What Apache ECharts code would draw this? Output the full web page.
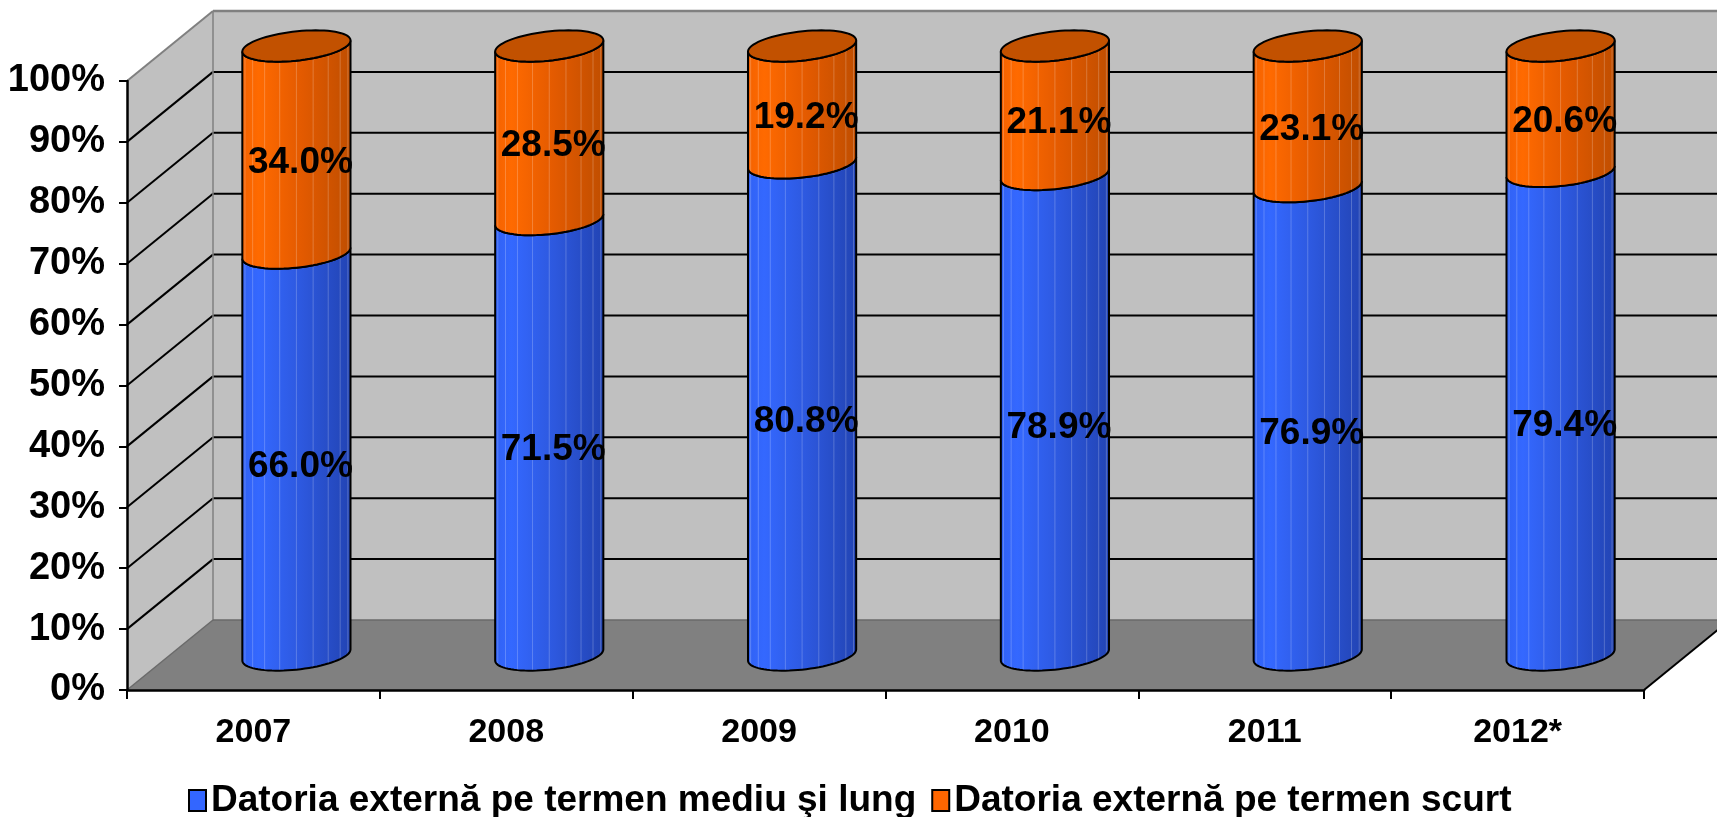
<!DOCTYPE html>
<html>
<head>
<meta charset="utf-8">
<title>Datoria externă</title>
<script src="https://cdn.jsdelivr.net/npm/echarts@6/dist/echarts.min.js"></script>
<style>
	html, body { margin: 0; padding: 0; background: #fff; }
	#main { width: 1717px; height: 817px; }
</style>
</head>
<body>
<div id="main"></div>
<script>
let years = ['2007', '2008', '2009', '2010', '2011', '2012*'];
let long_term = [66.0, 71.5, 80.8, 78.9, 76.9, 79.4]; // termen mediu si lung
let short_term = [34.0, 28.5, 19.2, 21.1, 23.1, 20.6]; // termen scurt
let y_min = 0, y_max = 100, y_step = 10;
let series_names = ['Datoria externă pe termen mediu şi lung', 'Datoria externă pe termen scurt'];

const FONT = '"Liberation Sans", Arial, sans-serif';
const DEPTH_X = 86, DEPTH_Y = -70; // shift from front plane to back wall
const OBL_A = 0.38, OBL_B = 0.31; // oblique projection of the cylinder circles
const T_L = Math.PI + Math.atan(OBL_A);
const T_R = 2 * Math.PI + Math.atan(OBL_A);

// points on a projected circle
function arc(cx, cy, r, t0, t1, n) {
	let pts = [];
	for (let i = 0; i <= n; i++) {
		let t = t0 + ((t1 - t0) * i) / n;
		pts.push([cx + r * Math.cos(t) + r * OBL_A * Math.sin(t), cy - r * OBL_B * Math.sin(t)]);
	}
	return pts;
}

function line(p0, p1, color, width) {
	return {
		type: 'line',
		shape: { x1: p0[0], y1: p0[1], x2: p1[0], y2: p1[1] },
		style: { stroke: color, lineWidth: width },
		silent: true,
	};
}

// walls, floor and gridlines
function render_walls(params, api) {
	let cs = params.coordSys;
	let x0 = cs.x, x1 = cs.x + cs.width;
	let y_top = cs.y, y_bot = cs.y + cs.height;
	let dx = DEPTH_X, dy = DEPTH_Y;
	let children = [];
	children.push({
		type: 'polygon',
		shape: { points: [[x0 + dx, y_top + dy], [x1 + dx, y_top + dy], [x1 + dx, y_bot + dy], [x0 + dx, y_bot + dy]] },
		style: { fill: '#c0c0c0' },
	});
	children.push({
		type: 'polygon',
		shape: { points: [[x0, y_top], [x0 + dx, y_top + dy], [x0 + dx, y_bot + dy], [x0, y_bot]] },
		style: { fill: '#c0c0c0' },
	});
	children.push({
		type: 'polygon',
		shape: { points: [[x0, y_bot], [x0 + dx, y_bot + dy], [x1 + dx, y_bot + dy], [x1, y_bot]] },
		style: { fill: '#808080' },
	});
	for (let v = y_min + y_step; v < y_max; v += y_step) {
		let y = api.coord([0, v])[1];
		children.push(line([x0, y], [x0 + dx, y + dy], '#000', 2));
		children.push(line([x0 + dx, y + dy], [x1 + dx, y + dy], '#000', 2));
	}
	children.push(line([x0, y_top], [x0 + dx, y_top + dy], '#808080', 2));
	children.push(line([x0 + dx, y_top + dy], [x1 + dx, y_top + dy], '#808080', 2.5));
	children.push(line([x0 + dx, y_top + dy], [x0 + dx, y_bot + dy], '#808080', 1.5));
	children.push(line([x0 + dx, y_bot + dy], [x1 + dx, y_bot + dy], '#6a6a6a', 1.5));
	children.push(line([x0, y_bot], [x0 + dx, y_bot + dy], '#6a6a6a', 1.5));
	children.push(line([x1, y_bot], [x1 + dx, y_bot + dy], '#000', 2));
	return { type: 'group', children: children };
}

// one stacked cylinder segment
function make_cylinder(stops, cap_color, is_top) {
	return function (params, api) {
		let idx = api.value(0);
		let pb = api.coord([idx, api.value(1)]);
		let pt = api.coord([idx, api.value(2)]);
		let band = api.size([1, 0])[0];
		let r = band * 0.2;
		let cx = pb[0] + DEPTH_X / 2;
		let yb = pb[1] + DEPTH_Y / 2;
		let yt = pt[1] + DEPTH_Y / 2;
		let bottom = arc(cx, yb, r, T_L, T_R, 40);
		let top = arc(cx, yt, r, T_R, T_L, 40);
		let outline = bottom.concat(top);
		let children = [];
		children.push({
			type: 'polygon',
			shape: { points: outline },
			style: { fill: new echarts.graphic.LinearGradient(0, 0, 1, 0, stops) },
		});
		// facet edges
		for (let k = 1; k < 10; k++) {
			let t = T_L + (Math.PI * k) / 10;
			let x = cx + r * Math.cos(t) + r * OBL_A * Math.sin(t);
			let off = -r * OBL_B * Math.sin(t);
			children.push(line([x, yb + off], [x, yt + off], 'rgba(255,255,255,0.22)', 1));
		}
		children.push({
			type: 'polygon',
			shape: { points: outline },
			style: { fill: null, stroke: '#000', lineWidth: 2 },
		});
		if (is_top) {
			children.push({
				type: 'polygon',
				shape: { points: arc(cx, yt, r, 0, Math.PI * 2, 72) },
				style: { fill: cap_color, stroke: '#000', lineWidth: 2 },
			});
		}
		children.push({
			type: 'text',
			x: cx + 4,
			y: (yb + yt) / 2 + 13,
			z2: 10,
			style: {
				text: api.value(3).toFixed(1) + '%',
				fill: '#000',
				font: 'bold 37px ' + FONT,
				align: 'center',
				verticalAlign: 'middle',
			},
		});
		return { type: 'group', children: children };
	};
}

let long_data = [], short_data = [];
for (let i = 0; i < years.length; i++) {
	long_data.push([i, 0, long_term[i], long_term[i]]);
	short_data.push([i, long_term[i], long_term[i] + short_term[i], short_term[i]]);
}

let chart = echarts.init(document.getElementById('main'));
let option = {
	animation: false,
	backgroundColor: '#fff',
	grid: { left: 127, right: 73, top: 81, bottom: 127, outerBoundsMode: 'none' },
	legend: {
		data: series_names,
		left: 183,
		top: 777,
		icon: 'rect',
		itemWidth: 17,
		itemHeight: 21,
		itemGap: 15,
		itemStyle: { borderColor: '#000', borderWidth: 2 },
		textStyle: { fontFamily: FONT, fontSize: 37, fontWeight: 'bold', color: '#000' },
	},
	xAxis: {
		type: 'category',
		data: years,
		z: 5,
		axisLine: { show: true, lineStyle: { color: '#000', width: 2.5 } },
		axisTick: { show: true, length: 9, lineStyle: { color: '#000', width: 2 } },
		axisLabel: { margin: 26, color: '#000', fontFamily: FONT, fontSize: 34, fontWeight: 'bold' },
		splitLine: { show: false },
	},
	yAxis: {
		type: 'value',
		min: y_min,
		max: y_max,
		interval: y_step,
		z: 5,
		axisLine: { show: true, lineStyle: { color: '#000', width: 2.5 } },
		axisTick: { show: true, length: 8, lineStyle: { color: '#000', width: 2 } },
		axisLabel: { margin: 22, formatter: '{value}%', color: '#000', fontFamily: FONT, fontSize: 38, fontWeight: 'bold' },
		splitLine: { show: false },
	},
	series: [
		{
			name: 'walls',
			type: 'custom',
			z: 1,
			silent: true,
			renderItem: render_walls,
			data: [[0, 0]],
		},
		{
			name: series_names[0],
			type: 'custom',
			z: 2,
			itemStyle: { color: '#3366ff' },
			renderItem: make_cylinder(
				[
					{ offset: 0, color: '#3162f4' },
					{ offset: 0.15, color: '#3468ff' },
					{ offset: 0.55, color: '#2d58de' },
					{ offset: 1, color: '#2244b4' },
				],
				'#2244b4',
				false
			),
			encode: { x: 0, y: [1, 2] },
			data: long_data,
		},
		{
			name: series_names[1],
			type: 'custom',
			z: 2,
			itemStyle: { color: '#ff6600' },
			renderItem: make_cylinder(
				[
					{ offset: 0, color: '#f46200' },
					{ offset: 0.15, color: '#ff6a00' },
					{ offset: 0.55, color: '#e35a00' },
					{ offset: 1, color: '#c04e00' },
				],
				'#c25100',
				true
			),
			encode: { x: 0, y: [1, 2] },
			data: short_data,
		},
	],
};
chart.setOption(option);
</script>
</body>
</html>
